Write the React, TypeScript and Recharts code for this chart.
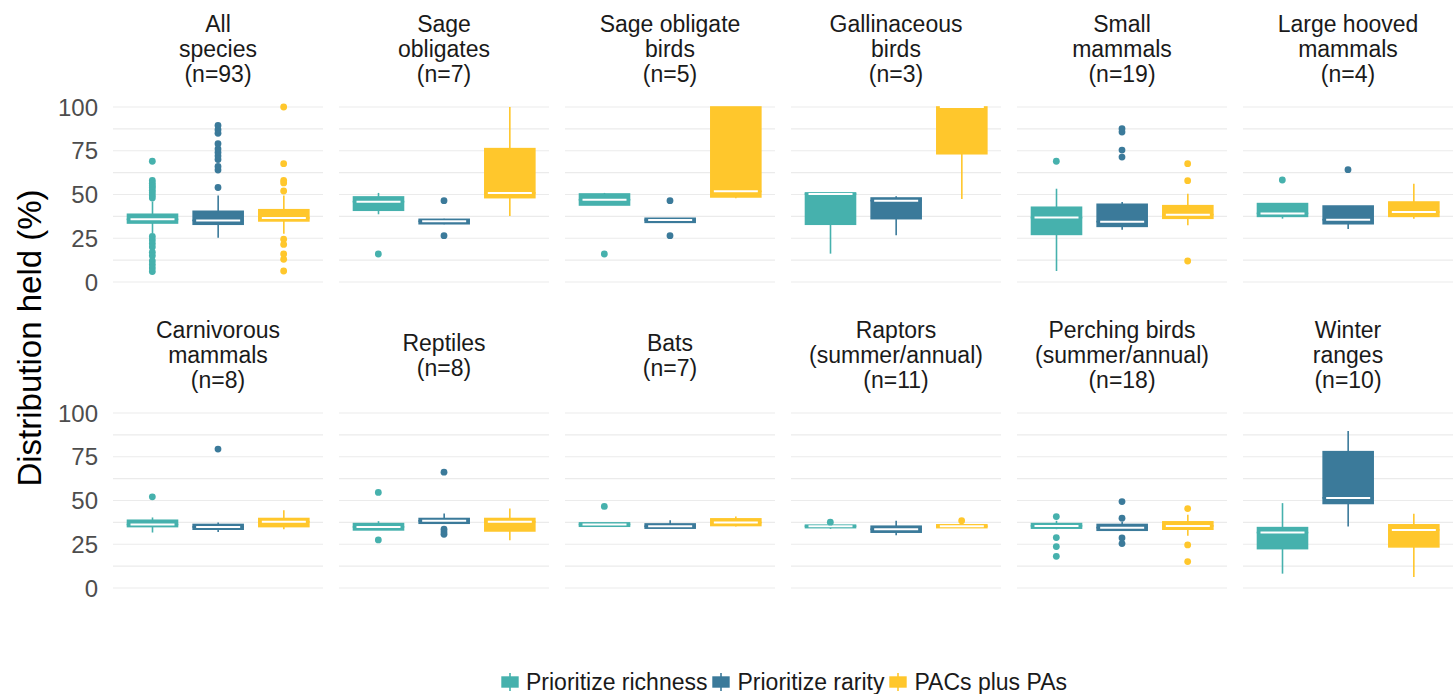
import React from "react";
import { ComposedChart, Bar, Scatter, XAxis, YAxis, CartesianGrid } from "recharts";

const PANEL_TITLES = [
  ["All", "species"],
  ["Sage", "obligates"],
  ["Sage obligate", "birds"],
  ["Gallinaceous", "birds"],
  ["Small", "mammals"],
  ["Large hooved", "mammals"],
  ["Carnivorous", "mammals"],
  ["Reptiles"],
  ["Bats"],
  ["Raptors", "(summer/annual)"],
  ["Perching birds", "(summer/annual)"],
  ["Winter", "ranges"],
];
const PANEL_N = [93, 7, 5, 3, 19, 4, 8, 8, 7, 11, 18, 10];
const SCENARIOS = ["Prioritize richness", "Prioritize rarity", "PACs plus PAs"];
const Y_TICKS = [0, 12.5, 25, 37.5, 50, 62.5, 75, 87.5, 100];

// [lower whisker, q1, median, q3, upper whisker] for each panel
const RICHNESS_BOXES = [
  [28, 33.7, 35.8, 38.7, 46],
  [38.7, 41, 45.9, 48.6, 50.9],
  [44, 44, 47, 50.3, 50.9],
  [16.2, 33, 50.3, 50.9, 50.9],
  [6.3, 27.2, 36.8, 42.7, 53.3],
  [36.2, 37.5, 39.2, 44.8, 44.8],
  [31.7, 35.1, 36.3, 38.7, 40.3],
  [33.2, 33.2, 34.9, 36.8, 38.2],
  [35.3, 35.3, 36.3, 37.2, 37.2],
  [33.8, 34.5, 35.3, 35.9, 35.9],
  [33.6, 34.2, 35.5, 36.8, 38.4],
  [8.2, 22.5, 31.7, 34.5, 48.5],
];
const RARITY_BOXES = [
  [25.3, 33, 35.2, 40.4, 49.5],
  [33, 33.3, 34.7, 35.8, 36.2],
  [34.1, 34.1, 35.4, 36.4, 36.4],
  [26.7, 36.2, 46.5, 48, 49],
  [29.9, 31.8, 34.5, 44.4, 45.7],
  [30.3, 33.3, 35.6, 43.4, 43.4],
  [32, 33.6, 34.9, 36.3, 37.4],
  [37, 37, 38.4, 39.7, 42.6],
  [34.2, 34.2, 35.3, 36.6, 38.7],
  [30.2, 31.9, 33.6, 35.3, 38.5],
  [32.6, 33, 34.5, 36.3, 38],
  [35.1, 48.3, 51.5, 77.9, 89.7],
];
const PACS_BOXES = [
  [27.6, 34.9, 36.6, 41.3, 49.5],
  [37.7, 48.2, 50.9, 76.2, 100],
  [47.8, 48.6, 51.8, 100, 100],
  [47.4, 73.3, 100, 100, 100],
  [32.4, 36.4, 38.5, 43.6, 50.5],
  [36.2, 37.5, 40, 45.7, 56.2],
  [33.6, 35.1, 37.8, 39.7, 44.5],
  [27.3, 32.6, 37.8, 39.7, 45.4],
  [35.1, 35.7, 37.4, 39.5, 40.8],
  [34.5, 34.5, 35.3, 36.1, 36.1],
  [29.8, 33.6, 35.5, 37.8, 41.8],
  [6.3, 23.5, 33.2, 36.1, 42.4],
];

const RICHNESS_OUTLIERS = [
  [69, 58, 56.5, 55, 54, 52.5, 51, 49.5, 48, 26, 24, 22, 20, 17, 15, 12, 10, 8, 6],
  [16],
  [16],
  [],
  [69],
  [58.3],
  [52.1],
  [54.6, 27.5],
  [46.6],
  [37.6],
  [40.8, 28.8, 23.7, 18.1],
  [],
];
const RARITY_OUTLIERS = [
  [54, 64, 66, 70, 72, 74, 76, 79, 85, 87, 89.5],
  [46.5, 26.5],
  [46.5, 26.5],
  [],
  [87.6, 85.7, 75.4, 71.4],
  [64.2],
  [79.4],
  [66.2, 33.6, 32, 30.7],
  [],
  [],
  [49.4, 39.9, 28.6, 25.4],
  [],
];
const PACS_OUTLIERS = [
  [100, 67.6, 58, 56.6, 52, 24.5, 21.5, 16, 13, 6.3],
  [],
  [],
  [],
  [67.6, 57.9, 12],
  [],
  [],
  [],
  [],
  [38.5],
  [45.4, 24.6, 15.1],
  [],
];

const BOXES = [RICHNESS_BOXES, RARITY_BOXES, PACS_BOXES];
const OUTLIERS = [RICHNESS_OUTLIERS, RARITY_OUTLIERS, PACS_OUTLIERS];
const COLORS = ["#46B1AD", "#3B7A9A", "#FFC72C"];

const FONT = '"Liberation Sans", Arial, Helvetica, sans-serif';
const PLOT_LEFT = 113;
const PLOT_TOP = 107;
const PLOT_W = 210;
const PLOT_H = 175;
const COL_STEP = 226;
const ROW_STEP = 306;
const M = 20;
const Y_AXIS_W = 90;

const colorOf = (name: string) => COLORS[SCENARIOS.indexOf(name)];

const whiskerShape = (p: any) => {
  const c = colorOf(p.payload.name);
  const cx = p.x + p.width / 2;
  return <line x1={cx} x2={cx} y1={p.y} y2={p.y + p.height} stroke={c} strokeWidth={1.6} />;
};

const lowerBoxShape = (p: any) => {
  const c = colorOf(p.payload.name);
  return <rect x={p.x} y={p.y} width={p.width} height={Math.max(p.height, 0)} fill={c} stroke={c} strokeWidth={1.6} />;
};

const upperBoxShape = (p: any) => {
  const c = colorOf(p.payload.name);
  const my = p.y + p.height;
  return (
    <g>
      <rect x={p.x} y={p.y} width={p.width} height={Math.max(p.height, 0)} fill={c} stroke={c} strokeWidth={1.6} />
      <line x1={p.x + 3} x2={p.x + p.width - 3} y1={my} y2={my} stroke="#FFFFFF" strokeWidth={2} />
    </g>
  );
};

const emptyShape = () => <g />;

function Panel({ idx }: { idx: number }) {
  const col = idx % 6;
  const row = Math.floor(idx / 6);
  const showY = col === 0;
  const data = SCENARIOS.map((name, i) => {
    const b = BOXES[i][idx];
    return {
      name,
      base: b[0],
      lowW: b[1] - b[0],
      lowBox: b[2] - b[1],
      highBox: b[3] - b[2],
      highW: b[4] - b[3],
    };
  });
  const extra = showY ? Y_AXIS_W : 0;

  return (
    <div
      style={{
        position: "absolute",
        left: PLOT_LEFT + col * COL_STEP - extra,
        top: PLOT_TOP + row * ROW_STEP - M,
      }}
    >
      <ComposedChart
        width={PLOT_W + extra}
        height={PLOT_H + 2 * M}
        data={data}
        margin={{ top: M, bottom: M, left: 0, right: 0 }}
        barCategoryGap={0}
      >
        <CartesianGrid vertical={false} stroke="#EBEBEB" strokeWidth={1.1} />
        <XAxis
          dataKey="name"
          type="category"
          hide
          allowDuplicatedCategory={false}
          padding={{ left: 6.5, right: 6.5 }}
        />
        <YAxis
          type="number"
          domain={[0, 100]}
          ticks={Y_TICKS}
          interval={0}
          hide={!showY}
          width={Y_AXIS_W}
          tickLine={false}
          axisLine={false}
          tickSize={0}
          tickMargin={15}
          tick={{ fill: "#4D4D4D", fontSize: 24, fontFamily: FONT }}
          tickFormatter={(v: number) => (v % 25 === 0 ? String(v) : "")}
        />
        <Bar dataKey="base" stackId="box" barSize={50} shape={emptyShape} isAnimationActive={false} />
        <Bar dataKey="lowW" stackId="box" barSize={50} shape={whiskerShape} isAnimationActive={false} />
        <Bar dataKey="lowBox" stackId="box" barSize={50} shape={lowerBoxShape} isAnimationActive={false} />
        <Bar dataKey="highBox" stackId="box" barSize={50} shape={upperBoxShape} isAnimationActive={false} />
        <Bar dataKey="highW" stackId="box" barSize={50} shape={whiskerShape} isAnimationActive={false} />
        {SCENARIOS.map((name, i) =>
          OUTLIERS[i][idx].length === 0 ? null : (
            <Scatter
              key={name}
              data={OUTLIERS[i][idx].map((value) => ({ name, value }))}
              dataKey="value"
              isAnimationActive={false}
              shape={(p: any) => <circle cx={p.cx} cy={p.cy} r={3.4} fill={COLORS[i]} />}
            />
          )
        )}
      </ComposedChart>
    </div>
  );
}

function StripTitle({ idx }: { idx: number }) {
  const col = idx % 6;
  const row = Math.floor(idx / 6);
  const lines = [...PANEL_TITLES[idx], `(n=${PANEL_N[idx]})`];
  return (
    <div
      style={{
        position: "absolute",
        left: PLOT_LEFT + col * COL_STEP - 8,
        width: PLOT_W + 16,
        top: 12 + row * ROW_STEP,
        height: 75,
        display: "flex",
        flexDirection: "column",
        justifyContent: "center",
        alignItems: "center",
        fontFamily: FONT,
        fontSize: 23,
        lineHeight: "25px",
        color: "#1A1A1A",
        whiteSpace: "nowrap",
      }}
    >
      {lines.map((l) => (
        <div key={l}>{l}</div>
      ))}
    </div>
  );
}

function LegendKey({ color }: { color: string }) {
  return (
    <svg width={20} height={24} style={{ display: "block" }}>
      <line x1={10} x2={10} y1={3} y2={21} stroke={color} strokeWidth={1.6} />
      <rect x={2} y={7} width={16} height={10} fill={color} stroke={color} strokeWidth={1.4} />
    </svg>
  );
}

export default function App() {
  return (
    <div
      style={{
        position: "absolute",
        left: 0,
        top: 0,
        width: 1455,
        height: 694,
        background: "#FFFFFF",
        overflow: "hidden",
      }}
    >
      {PANEL_TITLES.map((_, i) => (
        <StripTitle key={`t${i}`} idx={i} />
      ))}
      {PANEL_TITLES.map((_, i) => (
        <Panel key={`p${i}`} idx={i} />
      ))}
      <div
        style={{
          position: "absolute",
          left: 30,
          top: 338,
          transform: "translate(-50%, -50%) rotate(-90deg)",
          fontFamily: FONT,
          fontSize: 33,
          color: "#000000",
          whiteSpace: "nowrap",
        }}
      >
        Distribution held (%)
      </div>
      <div
        style={{
          position: "absolute",
          left: PLOT_LEFT,
          width: 1341,
          top: 669,
          height: 26,
          display: "flex",
          justifyContent: "center",
          alignItems: "center",
          fontFamily: FONT,
          fontSize: 23,
          color: "#1A1A1A",
        }}
      >
        {SCENARIOS.map((name, i) => (
          <div key={name} style={{ display: "flex", alignItems: "center", marginRight: i < 2 ? 4 : 0 }}>
            <LegendKey color={COLORS[i]} />
            <span style={{ marginLeft: 6 }}>{name}</span>
          </div>
        ))}
      </div>
    </div>
  );
}
